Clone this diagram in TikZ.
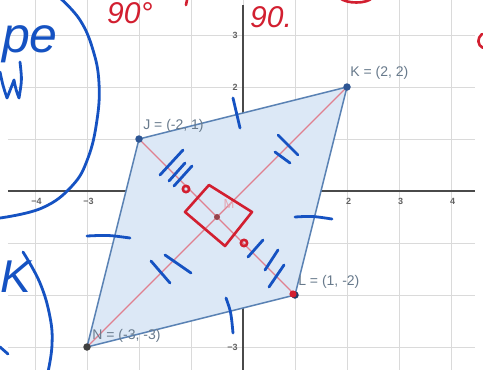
\documentclass[tikz,border=0pt]{standalone}
\usepackage{fontspec}
\setmainfont{Liberation Sans}
\definecolor{gridc}{HTML}{DADADA}
\definecolor{axisc}{HTML}{4A4A4A}
\definecolor{polyfill}{HTML}{DCE8F6}
\definecolor{polyedge}{HTML}{5A82B4}
\definecolor{diagc}{HTML}{E0808F}
\definecolor{ptc}{HTML}{2E5694}
\definecolor{lblc}{HTML}{687A8C}
\definecolor{tickc}{HTML}{626262}
\definecolor{pen}{HTML}{1552C2}
\definecolor{redpen}{HTML}{D21F30}
\definecolor{mlbl}{HTML}{E6A6B2}
\begin{document}
\begin{tikzpicture}[x=1pt,y=-1pt,
  gridline/.style={gridc, line width=0.9pt},
  axisline/.style={axisc, line width=1.1pt},
  ticklbl/.style={text=tickc, font=\fontsize{9}{10}\selectfont\bfseries, inner sep=1pt},
  ptlbl/.style={text=lblc, font=\fontsize{14}{16}\selectfont, inner sep=0pt, anchor=west},
  vertex/.style={circle, fill=ptc, inner sep=0pt, minimum size=7.5pt},
  bluepen/.style={pen, line width=2.8pt, line cap=round, line join=round},
  redpenl/.style={redpen, line width=2.6pt, line cap=round, line join=round},
  handtext/.style={inner sep=0pt, font=\fontsize{#1}{#1}\selectfont\itshape},
]
\fill[white] (0,0) rectangle (483,370);
\useasboundingbox (0,0) rectangle (483,370);

\begin{scope}[shift={(243,191)}, x=52pt, y=52pt]
  % grid
  \foreach \i in {-4,...,4} \draw[gridline] (\i,3.7) -- (\i,-3.45);
  \foreach \j in {-3,...,3} \draw[gridline] (-4.52,\j) -- (4.46,\j);
  % axes
  \draw[axisline] (-4.52,0) -- (4.46,0);
  \draw[axisline] (0,3.58) -- (0,-3.45);
  % tick labels
  \foreach \i/\t in {-4/−4,-3/−3,-2/−2,-1/−1,1/1,2/2,3/3,4/4}
    \node[ticklbl, anchor=north] (xt\i) at (\i+0.03,-0.12) {\t};
  \foreach \j/\t in {-3/−3,-2/−2,-1/−1,1/1,2/2,3/3}
    \node[ticklbl, anchor=east] (yt\j) at (-0.08,\j) {\t};
  % points
  \coordinate (J) at (-2,1);
  \coordinate (K) at (2,2);
  \coordinate (L) at (1,-2);
  \coordinate (N) at (-3,-3);
  \coordinate (M) at (-0.5,-0.5);
  % polygon
  \fill[polyfill] (J) -- (K) -- (L) -- (N) -- cycle;
  \draw[diagc, line width=1.1pt] (J) -- (L);
  \draw[diagc, line width=1.1pt] (K) -- (N);
  \draw[polyedge, line width=1.5pt, line join=round] (J) -- (K) -- (L) -- (N) -- cycle;
  \node[vertex] (Jp) at (J) {};
  \node[vertex] (Kp) at (K) {};
  \node[vertex, fill=ptc!70!black] (Lp) at (L) {};
  \node[vertex, fill=black!75] (Np) at (N) {};
  \node[circle, fill=black!40!redpen!80!white, inner sep=0pt, minimum size=6pt] (Mp) at (M) {};
  % labels
  \node[ptlbl] (Kl) at (2.06,2.27) {K = (2, 2)};
  \node[ptlbl] (Jl) at (-1.92,1.25) {J = (-2, 1)};
  \node[ptlbl] (Ll) at (1.06,-1.75) {L = (1, -2)};
  \node[ptlbl] (Nl) at (-2.90,-2.79) {N = (-3, -3)};
  \node[text=mlbl, font=\fontsize{13}{14}\selectfont, inner sep=0pt] (Ml) at (-0.27,-0.25) {M};
\end{scope}

% ---------- blue pen marks ----------
% single ticks on sides
\draw[bluepen] (233,98) -- (240,128);
\draw[bluepen] (295,217) .. controls (312,216) .. (332,219);
\draw[bluepen] (87,236) .. controls (108,235) .. (130,238);
\draw[bluepen] (226,298) .. controls (231,312) .. (233,333);
% double ticks on MK and NM
\draw[bluepen] (278,135) -- (298,155);
\draw[bluepen] (275,152) -- (290,163);
\draw[bluepen] (151,261) -- (170,283);
\draw[bluepen] (165,255) -- (191,273);
% triple ticks on JM and ML
\draw[bluepen] (160,175) -- (183,150);
\draw[bluepen] (169,181) -- (185,163);
\draw[bluepen] (174,186) -- (192,166);
\draw[bluepen] (248,257) -- (263,240);
\draw[bluepen] (265,270) -- (278,250);
\draw[bluepen] (269,287) -- (284,265);
% circled note top-left
\draw[bluepen] plot[smooth, tension=0.7] coordinates {(60,-2) (80,20) (93,50) (99,83) (97,120) (88,158) (72,186) (42,208) (0,218)};
\node[handtext=50, text=pen, anchor=base west] (pe) at (2,52) {pe};
\draw[bluepen] (0,72) .. controls (3,86) .. (7,98) .. controls (11,88) .. (14,80) .. controls (16,90) .. (19,98) .. controls (22,80) .. (20,62);
% bottom-left note
\node[handtext=46, text=pen, anchor=base west] (kk) at (0,292) {K};
\draw[bluepen] plot[smooth, tension=0.7] coordinates {(23,252) (40,283) (50,317) (52,345) (48,372)};
\draw[bluepen] (0,347) -- (8,354);

% ---------- red pen marks ----------
\draw[redpenl] (185,212) -- (209,185) -- (252,212) -- (225,246) -- cycle;
\draw[redpenl] (186,189) circle (3.2);
\draw[redpenl] (244,243) circle (3.2);
\fill[redpen] (293,294) circle (3.6);
\node[handtext=30, text=redpen, anchor=base west] (n90a) at (107,23) {90°};
\draw[redpenl] (187,0) -- (186,5);
\node[handtext=30, text=redpen, anchor=base west] (n90b) at (250,27) {90.};
\draw[redpenl] (340,-2) .. controls (346,4) and (367,4) .. (372,-2);
\draw[redpenl] (482,34) .. controls (477,38) and (477,45) .. (483,48);
\end{tikzpicture}
\end{document}
